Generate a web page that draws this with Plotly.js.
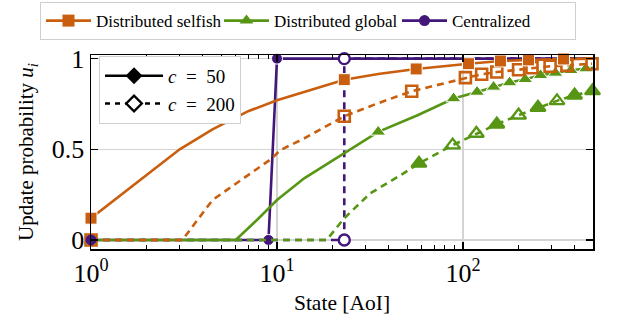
<!DOCTYPE html>
<html>
<head>
<meta charset="utf-8">
<script src="https://cdn.plot.ly/plotly-3.0.1.min.js"></script>
<style>html,body{margin:0;padding:0;background:#fff;}#chart{width:636px;height:324px;}</style>
</head>
<body>
<div id="chart"></div>
<script>
// ---- data ----
const selfish50X = [1, 2, 3, 4.5, 7, 10, 14, 23, 35, 56, 107, 159, 225, 347, 500];
const selfish50Y = [0.12, 0.36, 0.5, 0.61, 0.71, 0.77, 0.815, 0.884, 0.915, 0.943, 0.972, 0.987, 0.993, 0.998, 1.0];
const selfish50Mark = [1, 0, 0, 0, 0, 0, 0, 1, 0, 1, 1, 1, 1, 1, 0];

const selfish200X = [1, 3.1, 4.5, 7, 9.4, 10.4, 14, 23, 34.5, 53, 103, 126, 152, 199, 235, 294, 362, 494];
const selfish200Y = [0, 0, 0.22, 0.358, 0.45, 0.495, 0.56, 0.682, 0.752, 0.82, 0.895, 0.914, 0.926, 0.939, 0.95, 0.958, 0.963, 0.972];
const selfish200Mark = [1, 0, 0, 0, 0, 0, 0, 1, 0, 1, 1, 1, 1, 1, 1, 1, 1, 1];

const global50X = [1, 6, 7.8, 10, 14, 23, 35, 57, 89, 119, 146, 178, 216, 261, 314, 380, 458, 500];
const global50Y = [0, 0, 0.11, 0.22, 0.34, 0.477, 0.596, 0.688, 0.78, 0.816, 0.844, 0.868, 0.886, 0.908, 0.921, 0.936, 0.945, 0.95];
const global50Mark = [1, 0, 0, 0, 0, 0, 1, 0, 1, 1, 1, 1, 1, 1, 1, 1, 1, 0];

const global200X = [1, 18.5, 23, 31.7, 47.9, 58, 88, 118, 152, 199, 253, 320, 398, 497];
const global200Y = [0, 0, 0.12, 0.257, 0.367, 0.422, 0.523, 0.587, 0.638, 0.688, 0.73, 0.767, 0.798, 0.822];
const global200Mark = [0, 0, 0, 0, 0, 1, 1, 1, 1, 1, 1, 1, 1, 1];
const global200Open = [0, 0, 0, 0, 0, 0, 1, 1, 0, 1, 0, 1, 0, 0];

const central50X = [1, 9, 10, 500];
const central50Y = [0, 0, 1, 1];
const central50Mark = [1, 1, 1, 0];

const central200X = [1, 23, 23, 500];
const central200Y = [0, 0, 1, 1];
const central200Mark = [0, 1, 1, 0];

const seriesNames = ['Distributed selfish', 'Distributed global', 'Centralized'];
const costLabels = ['<i>c</i>\u2002=\u200250', '<i>c</i>\u2002=\u2002200'];
const xTickVals = [1, 10, 100];
const xTickText = ['10<sup>0</sup>', '10<sup>1</sup>', '10<sup>2</sup>'];
const yTickVals = [0, 0.5, 1];
const yTickText = ['0', '0.5', '1'];

// ---- styles ----
const ORANGE = '#c95f0e';
const GREEN = '#579615';
const PURPLE = '#43177a';
const LW = 2.6;
const FONT = 'Liberation Serif, Times New Roman, serif';

function sizes(mask, s) { return mask.map(m => m ? s : 0); }

const traces = [
  // Centralized
  {x: central50X, y: central50Y, mode: 'lines+markers', showlegend: false, cliponaxis: false,
   line: {color: PURPLE, width: LW},
   marker: {symbol: 'circle', color: PURPLE, opacity: 1, size: sizes(central50Mark, 11)}},
  {x: central200X, y: central200Y, mode: 'lines+markers', showlegend: false, cliponaxis: false,
   line: {color: PURPLE, width: LW, dash: '7px,5px'},
   marker: {symbol: 'circle', color: '#fff', opacity: 1, size: sizes(central200Mark, 11), line: {color: PURPLE, width: 2.4}}},
  // Global
  {x: global200X, y: global200Y, mode: 'lines+markers', showlegend: false, cliponaxis: false,
   line: {color: GREEN, width: LW, dash: '7px,5px'},
   marker: {symbol: global200Open.map(o => o ? 'triangle-up-open' : 'triangle-up'), color: GREEN, opacity: 1,
            size: sizes(global200Mark, 13), line: {color: GREEN, width: 2.4}}},
  {x: global50X, y: global50Y, mode: 'lines+markers', showlegend: false, cliponaxis: false,
   line: {color: GREEN, width: LW},
   marker: {symbol: 'triangle-up', color: GREEN, opacity: 1, size: sizes(global50Mark, 13)}},
  // Selfish
  {x: selfish200X, y: selfish200Y, mode: 'lines+markers', showlegend: false, cliponaxis: false,
   line: {color: ORANGE, width: LW, dash: '7px,5px'},
   marker: {symbol: 'square-open', color: ORANGE, opacity: 1, size: sizes(selfish200Mark, 11), line: {color: ORANGE, width: 2.6}}},
  {x: selfish50X, y: selfish50Y, mode: 'lines+markers', showlegend: false, cliponaxis: false,
   line: {color: ORANGE, width: LW},
   marker: {symbol: 'square', color: ORANGE, opacity: 1, size: sizes(selfish50Mark, 12)}},
  // Central marker on top at x=1
  {x: central50X.slice(0, 1), y: central50Y.slice(0, 1), mode: 'markers', showlegend: false, cliponaxis: false,
   marker: {symbol: 'circle', color: PURPLE, opacity: 1, size: 11}},
  // legend entries (series)
  {x: [null], y: [null], name: seriesNames[0], mode: 'lines+markers', legend: 'legend',
   line: {color: ORANGE, width: LW}, marker: {symbol: 'square', color: ORANGE, size: 12}},
  {x: [null], y: [null], name: seriesNames[1], mode: 'lines+markers', legend: 'legend',
   line: {color: GREEN, width: LW}, marker: {symbol: 'triangle-up', color: GREEN, size: 12}},
  {x: [null], y: [null], name: seriesNames[2], mode: 'lines+markers', legend: 'legend',
   line: {color: PURPLE, width: LW}, marker: {symbol: 'circle', color: PURPLE, size: 11}},
  // legend entries (cost)
  {x: [null], y: [null], name: costLabels[0], mode: 'lines+markers', legend: 'legend2',
   line: {color: '#000', width: LW}, marker: {symbol: 'diamond', color: '#000', size: 13}},
  {x: [null], y: [null], name: costLabels[1], mode: 'lines+markers', legend: 'legend2',
   line: {color: '#000', width: LW, dash: '5px,5px'},
   marker: {symbol: 'diamond', color: '#fff', size: 12, line: {color: '#000', width: 2.4}}}
];

const layout = {
  width: 636, height: 324,
  margin: {l: 91, r: 43, t: 55, b: 75, autoexpand: false},
  paper_bgcolor: '#fff', plot_bgcolor: '#fff',
  font: {family: FONT, color: '#000', size: 18},
  xaxis: {
    type: 'log', range: [0, Math.log10(500)],
    tickvals: xTickVals, ticktext: xTickText,
    tickfont: {size: 26, family: FONT},
    ticks: 'inside', ticklen: 7, tickcolor: '#000', tickwidth: 1.2,
    minor: {ticks: 'inside', ticklen: 4, tickcolor: '#000', tickwidth: 1, showgrid: false, dtick: 'D1'},
    showline: true, linecolor: '#000', linewidth: 1.5, mirror: 'ticks',
    showgrid: true, gridcolor: '#d4d4d4', gridwidth: 1.2,
    zeroline: false, automargin: false,
    title: {text: 'State [AoI]', font: {size: 21.5, family: FONT}, standoff: 8}
  },
  yaxis: {
    range: [-0.05, 1.02],
    tickvals: yTickVals, ticktext: yTickText,
    tickfont: {size: 26, family: FONT},
    ticks: 'inside', ticklen: 7, tickcolor: '#000', tickwidth: 1.2,
    showline: true, linecolor: '#000', linewidth: 1.5, mirror: 'ticks',
    showgrid: true, gridcolor: '#d4d4d4', gridwidth: 1.2,
    zeroline: false, automargin: false,
    title: {text: 'Update probability <i>u<sub>i</sub></i>', font: {size: 21, family: FONT}, standoff: 12}
  },
  legend: {
    orientation: 'h',
    x: -0.1016, xanchor: 'left', y: 1.273, yanchor: 'top',
    bgcolor: '#fff', bordercolor: '#cfcfcf', borderwidth: 1,
    font: {size: 17, family: FONT}, itemwidth: 45, traceorder: 'normal',
    entrywidth: 118, entrywidthmode: 'pixels'
  },
  legend2: {
    x: 0.016, xanchor: 'left', y: 0.995, yanchor: 'top',
    bgcolor: '#fff', bordercolor: '#cfcfcf', borderwidth: 1,
    font: {size: 19, family: FONT}, itemwidth: 58, tracegroupgap: 0
  },
  showlegend: true
};

Plotly.newPlot('chart', traces, layout, {staticPlot: true, displayModeBar: false});
</script>
</body>
</html>
